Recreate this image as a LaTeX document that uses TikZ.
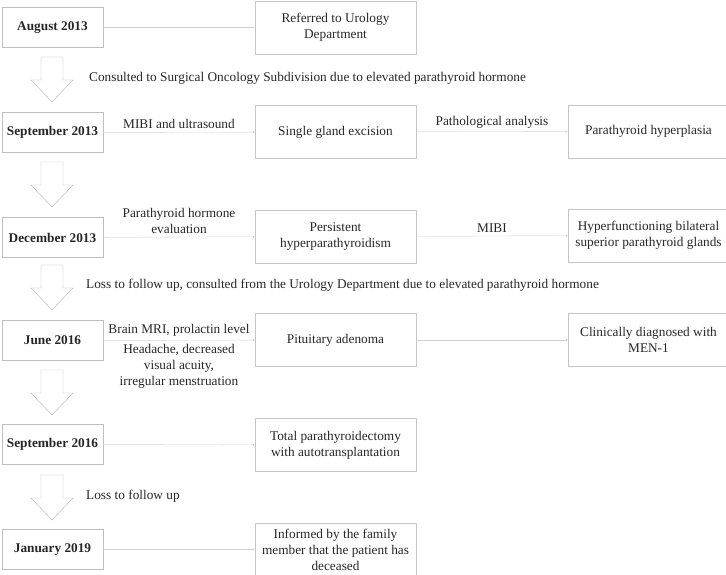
\documentclass[tikz,border=0pt]{standalone}
\usepackage{fontspec}
\setmainfont{Liberation Serif}
\usetikzlibrary{arrows.meta}

\tikzset{
    every node/.style = {font = \fontsize{13.3}{16}\selectfont, text = black!85},
    date/.style = {draw = gray!50, minimum width = 101pt, minimum height = 40pt, inner sep = 0pt, font = \fontsize{13.3}{16}\selectfont\bfseries},
    event/.style = {draw = gray!45, minimum width = 161pt, minimum height = 53pt, inner sep = 0pt, align = center},
    link/.style = {draw = gray!35, -{Latex[length = 2pt, width = 2pt]}},
    hollow/.style = {draw = gray!60, fill = white, line join = miter}
}

\begin{document}
\begin{tikzpicture}[x = 1pt, y = -1pt]
        \useasboundingbox (0, 0) rectangle (726, 575);

        \node [date] (aug13) at (52.5, 27.5) {August 2013};
        \node [date] (sep13) at (52.5, 132.5) {September 2013};
        \node [date] (dec13) at (52.5, 237.5) {December 2013};
        \node [date] (jun16) at (52.5, 340.5) {June 2016};
        \node [date] (sep16) at (52.5, 444.5) {September 2016};
        \node [date] (jan19) at (52.5, 549.5) {January 2019};

        \node [event] (urology) at (335.5, 27.5) {Referred to Urology\\Department};
        \node [event] (excision) at (335.5, 132) {Single gland excision};
        \node [event] (persist) at (335.5, 236.5) {Persistent\\hyperparathyroidism};
        \node [event] (pituitary) at (335.5, 340) {Pituitary adenoma};
        \node [event] (total) at (335.5, 445) {Total parathyroidectomy\\with autotransplantation};
        \node [event] (deceased) at (335.5, 549.5) {Informed by the family\\member that the patient has\\deceased};

        \node [event] (hyperplasia) at (648.5, 131.5) {Parathyroid hyperplasia};
        \node [event] (glands) at (648.5, 235.5) {Hyperfunctioning bilateral\\superior parathyroid glands};
        \node [event] (men) at (648.5, 340) {Clinically diagnosed with\\MEN-1};

        \path [link]
            (aug13) edge (urology)
            (sep13) edge node [above] {MIBI and ultrasound} (excision)
            (excision) edge node [above] {Pathological analysis} (hyperplasia)
            (dec13) edge node [above, align = center] {Parathyroid hormone\\evaluation} (persist)
            (persist) edge node [above] {MIBI} (glands)
            (jun16) edge node [above] {Brain MRI, prolactin level}
                node [below, align = center] {Headache, decreased\\visual acuity,\\irregular menstruation} (pituitary)
            (pituitary) edge (men)
            (sep16) edge (total)
            (jan19) edge (deceased)
        ;

        \foreach \top in {57, 162, 265, 370, 475}
            \draw [hollow] (41, \top) -- (63, \top) -- (63, \top + 23) -- (73, \top + 23)
                -- (52, \top + 45) -- (31, \top + 23) -- (41, \top + 23) -- cycle;

        \node [anchor = west, inner sep = 0pt] (consult) at (89, 78) {Consulted to Surgical Oncology Subdivision due to elevated parathyroid hormone};
        \node [anchor = west, inner sep = 0pt] (loss) at (86, 285) {Loss to follow up, consulted from the Urology Department due to elevated parathyroid hormone};
        \node [anchor = west, inner sep = 0pt] (lossend) at (86, 496) {Loss to follow up};
    \end{tikzpicture}
\end{document}
